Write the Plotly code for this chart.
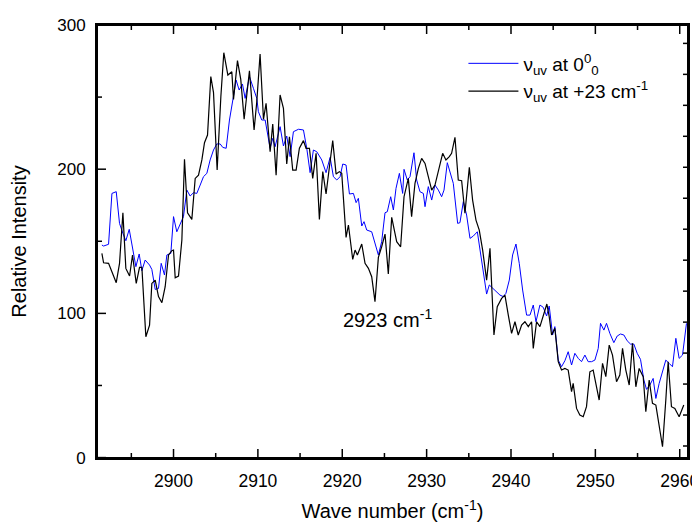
import plotly.graph_objects as go

# ---- data ----
black_x = [2891.51, 2891.71, 2892.30, 2893.21, 2893.60, 2894.00, 2894.35, 2894.79, 2895.14, 2895.58,
           2895.97, 2896.25, 2896.72, 2897.16, 2897.43, 2897.83, 2898.22, 2898.62, 2899.01, 2899.41,
           2899.80, 2900.00, 2900.20, 2900.59, 2900.99, 2901.30, 2901.66, 2902.17, 2902.57, 2902.96,
           2903.36, 2903.67, 2904.03, 2904.42, 2904.74, 2905.17, 2905.61, 2905.96, 2906.44, 2906.91,
           2907.11, 2907.58, 2907.97, 2908.37, 2909.00, 2909.55, 2909.87, 2910.26, 2910.66, 2910.97,
           2911.45, 2911.76, 2912.16, 2912.63, 2913.03, 2913.42, 2913.74, 2914.13, 2914.53, 2914.92,
           2915.40, 2915.71, 2916.11, 2916.50, 2916.90, 2917.29, 2917.69, 2918.08, 2918.48, 2918.87,
           2919.27, 2919.66, 2919.94, 2920.45, 2920.73, 2921.24, 2921.52, 2921.79, 2922.31, 2922.70,
           2923.10, 2923.49, 2923.88, 2924.28, 2924.67, 2925.07, 2925.46, 2925.86, 2926.25, 2926.45,
           2926.92, 2927.32, 2927.83, 2928.22, 2928.62, 2929.02, 2929.41, 2929.81, 2930.20, 2930.60,
           2930.99, 2931.50, 2931.90, 2932.29, 2932.69, 2932.96, 2933.36, 2933.75, 2934.15, 2934.54,
           2935.06, 2935.45, 2935.85, 2936.24, 2936.64, 2937.11, 2937.51, 2937.98, 2938.37, 2938.89,
           2939.28, 2939.68, 2940.07, 2940.47, 2940.86, 2941.26, 2941.65, 2942.05, 2942.44, 2942.64,
           2943.03, 2943.43, 2944.02, 2944.25, 2944.53, 2944.81, 2945.20, 2945.60, 2945.99, 2946.39,
           2946.78, 2947.18, 2947.37, 2947.77, 2948.16, 2948.56, 2948.95, 2949.35, 2949.74, 2950.14,
           2950.45, 2950.85, 2951.24, 2951.64, 2952.03, 2952.51, 2952.90, 2953.22, 2953.61, 2954.01,
           2954.40, 2954.80, 2955.19, 2955.67, 2955.98, 2956.38, 2956.77, 2957.17, 2957.56, 2957.96,
           2958.35, 2958.63, 2959.02, 2959.42, 2959.93, 2960.48]
black_y = [141.6, 135.1, 134.7, 121.3, 134.7, 169.8, 131.2, 125.9, 140.5, 120.8,
           131.9, 131.9, 83.8, 91.9, 120.8, 123.1, 111.6, 107.4, 118.5, 140.5,
           143.5, 143.9, 124.7, 125.9, 150.9, 206.8, 169.8, 165.2, 193.6, 195.9,
           206.4, 218.4, 223.7, 264.2, 253.1, 199.4, 250.3, 280.8, 265.3, 267.6,
           248.4, 275.3, 262.3, 234.6, 268.3, 227.2, 246.8, 279.9, 234.6, 245.7,
           212.1, 231.3, 195.9, 251.5, 242.2, 203.6, 222.5, 199.4, 199.4, 214.5,
           219.8, 214.5, 214.5, 193.6, 211.0, 165.2, 198.3, 182.8, 201.7, 219.8,
           196.6, 198.3, 197.1, 152.7, 161.3, 137.4, 143.9, 140.5, 148.1, 134.7,
           131.2, 125.4, 108.1, 138.8, 146.2, 155.0, 127.3, 166.6, 155.5, 149.7,
           146.2, 180.9, 193.6, 167.1, 190.2, 200.6, 207.5, 204.0, 194.8, 185.5,
           189.0, 200.6, 211.0, 206.4, 208.7, 211.0, 222.1, 192.5, 192.0, 169.4,
           201.3, 178.6, 164.7, 157.8, 143.9, 123.1, 145.1, 85.0, 104.6, 110.4,
           112.7, 98.8, 86.1, 94.2, 85.0, 91.9, 94.2, 90.8, 94.2, 75.7,
           94.2, 90.8, 101.2, 106.5, 97.7, 85.0, 89.6, 66.5, 60.7, 61.8,
           60.7, 45.7, 51.4, 34.1, 29.5, 28.3, 35.3, 59.5, 60.7, 49.1,
           39.9, 65.3, 56.1, 78.0, 71.1, 52.6, 57.2, 75.7, 60.7, 50.3,
           79.2, 49.1, 61.8, 56.1, 31.8, 53.8, 37.6, 36.4, 22.5, 7.5,
           39.9, 66.5, 35.3, 34.1, 28.3, 36.4]

blue_x = [2891.51, 2891.71, 2892.30, 2892.70, 2893.21, 2893.60, 2894.00, 2894.35, 2894.75, 2895.14,
          2895.54, 2895.93, 2896.25, 2896.64, 2897.16, 2897.43, 2897.83, 2898.22, 2898.54, 2898.93,
          2899.21, 2899.68, 2900.00, 2900.39, 2900.87, 2901.18, 2901.58, 2901.97, 2902.37, 2902.76,
          2903.16, 2903.55, 2903.95, 2904.34, 2904.74, 2905.13, 2905.53, 2905.84, 2906.24, 2906.63,
          2907.03, 2907.42, 2907.78, 2908.17, 2908.49, 2909.00, 2909.47, 2909.87, 2910.06, 2910.46,
          2910.86, 2911.45, 2911.76, 2912.04, 2912.63, 2913.03, 2913.42, 2913.82, 2914.21, 2914.81,
          2915.40, 2915.79, 2916.19, 2916.58, 2916.98, 2917.57, 2918.08, 2918.56, 2918.95, 2919.35,
          2919.74, 2920.06, 2920.45, 2920.85, 2921.32, 2921.64, 2921.91, 2922.31, 2922.58, 2922.90,
          2923.49, 2923.88, 2924.28, 2924.67, 2925.07, 2925.34, 2925.74, 2926.06, 2926.37, 2926.77,
          2927.16, 2927.32, 2927.71, 2928.03, 2928.50, 2928.82, 2929.21, 2929.61, 2929.81, 2930.20,
          2930.60, 2930.99, 2931.39, 2931.78, 2932.06, 2932.45, 2932.77, 2933.16, 2933.68, 2933.95,
          2934.35, 2934.74, 2935.14, 2935.53, 2936.01, 2936.40, 2936.72, 2937.11, 2937.43, 2937.90,
          2938.30, 2938.69, 2939.09, 2939.40, 2939.80, 2940.19, 2940.59, 2940.98, 2941.38, 2941.85,
          2942.25, 2942.64, 2942.96, 2943.43, 2943.82, 2944.22, 2944.53, 2944.93, 2945.20, 2945.60,
          2945.99, 2946.39, 2946.78, 2947.18, 2947.57, 2947.97, 2948.36, 2948.76, 2949.15, 2949.55,
          2949.94, 2950.34, 2950.61, 2951.01, 2951.32, 2951.72, 2952.19, 2952.59, 2952.98, 2953.38,
          2953.77, 2954.17, 2954.56, 2954.96, 2955.35, 2955.75, 2956.06, 2956.46, 2956.85, 2957.17,
          2957.56, 2957.96, 2958.35, 2958.75, 2959.14, 2959.54, 2959.93, 2960.33, 2960.80]
blue_y = [147.4, 146.7, 147.9, 183.2, 184.4, 162.4, 155.5, 150.4, 158.3, 143.9,
          132.4, 141.2, 129.6, 137.0, 133.5, 130.5, 116.6, 117.3, 134.7, 126.6,
          140.5, 141.6, 167.1, 156.6, 163.6, 167.1, 185.5, 181.4, 183.7, 183.2,
          189.0, 194.8, 197.1, 206.4, 213.3, 217.5, 217.5, 215.1, 214.5, 234.1,
          248.0, 261.8, 254.9, 259.1, 249.1, 264.2, 256.1, 249.1, 239.9, 234.1,
          234.1, 214.5, 221.4, 215.6, 229.5, 216.1, 223.0, 208.7, 226.0, 227.7,
          227.2, 214.5, 197.6, 213.3, 212.1, 206.4, 197.6, 208.2, 194.8, 192.5,
          194.8, 203.6, 202.9, 182.8, 183.2, 176.8, 179.8, 160.6, 163.6, 157.8,
          156.6, 148.1, 140.5, 149.7, 169.8, 170.5, 180.9, 171.7, 186.7, 197.1,
          183.2, 199.9, 192.5, 194.8, 211.4, 192.5, 184.4, 183.2, 174.0, 187.9,
          178.6, 189.0, 185.5, 180.9, 185.5, 204.5, 197.1, 190.2, 162.4, 162.9,
          177.5, 168.2, 152.0, 153.6, 156.6, 141.6, 130.1, 113.4, 119.7, 117.3,
          115.0, 112.7, 111.6, 113.9, 123.1, 140.5, 148.1, 134.7, 116.2, 98.8,
          98.8, 105.8, 94.2, 105.8, 104.2, 98.2, 105.1, 85.0, 90.8, 67.6,
          63.0, 67.2, 73.4, 64.2, 72.3, 68.8, 66.5, 71.1, 66.5, 66.5,
          67.6, 75.7, 93.1, 88.4, 93.1, 86.1, 79.7, 84.3, 85.7, 85.0,
          81.0, 78.7, 78.7, 72.3, 68.1, 53.8, 47.3, 50.3, 54.9, 41.0,
          51.4, 59.5, 67.6, 65.3, 63.0, 82.7, 68.8, 71.1, 93.1]

x_major_ticks = [2900, 2910, 2920, 2930, 2940, 2950, 2960]
x_minor_ticks = [2895, 2905, 2915, 2925, 2935, 2945, 2955]
y_major_ticks = [0, 100, 200, 300]
y_minor_ticks = [50, 150, 250]

blue_name = "ν<sub>uv</sub> at 0<sup>0</sup><sub>0</sub>"
black_name = "ν<sub>uv</sub> at +23 cm<sup>-1</sup>"
x_title = "Wave number (cm<sup>-1</sup>)"
y_title = "Relative Intensity"
peak_label = "2923 cm<sup>-1</sup>"

FONT = "Liberation Sans, Arial, sans-serif"
INK = "#000000"

# figure geometry (page body adds an 8px offset, so the figure fits the window)
FIG_W, FIG_H = 692, 514
M_L, M_R, M_T, M_B = 89, 12, 17, 64
X_RANGE = [2890.93, 2960.98]
Y_RANGE = [-0.3, 300]
plot_w = FIG_W - M_L - M_R
plot_h = FIG_H - M_T - M_B
ux = (X_RANGE[1] - X_RANGE[0]) / plot_w   # data units per pixel
uy = (Y_RANGE[1] - Y_RANGE[0]) / plot_h
MAJOR_LEN, MINOR_LEN, RIGHT_LEN = 9, 5, 5

fig = go.Figure()
fig.add_trace(go.Scatter(x=blue_x, y=blue_y, mode="lines", name=blue_name,
                         line=dict(color="#0000ff", width=1)))
fig.add_trace(go.Scatter(x=black_x, y=black_y, mode="lines", name=black_name,
                         line=dict(color=INK, width=1.2)))

# frame of the plotting area and inward tick marks (drawn as plain line paths)
x0, x1 = X_RANGE
y0, y1 = Y_RANGE
frame_x = [x0, x1, x1, x0, x0]
frame_y = [y0, y0, y1, y1, y0]
fig.add_trace(go.Scatter(x=frame_x, y=frame_y, mode="lines", showlegend=False,
                         hoverinfo="skip", cliponaxis=False,
                         line=dict(color=INK, width=2)))

tx, ty = [], []
for ticks, length in ((x_major_ticks, MAJOR_LEN), (x_minor_ticks, MINOR_LEN)):
    for t in ticks:
        tx += [t, t, None, t, t, None]
        ty += [y0, y0 + length * uy, None, y1, y1 - length * uy, None]
for ticks, length in ((y_major_ticks, MAJOR_LEN), (y_minor_ticks, MINOR_LEN)):
    for v in ticks:
        tx += [x0, x0 + length * ux, None]
        ty += [v, v, None]
# right-hand axis of the original carries its own evenly spaced tick marks
for k in range(14):
    v = y0 + (12 + 30.97 * k) * uy
    tx += [x1, x1 - RIGHT_LEN * ux, None]
    ty += [v, v, None]
fig.add_trace(go.Scatter(x=tx, y=ty, mode="lines", showlegend=False,
                         hoverinfo="skip", cliponaxis=False,
                         line=dict(color=INK, width=1.5)))

fig.update_layout(
    width=FIG_W, height=FIG_H,
    margin=dict(l=M_L, r=M_R, t=M_T, b=M_B, autoexpand=False),
    paper_bgcolor="#ffffff", plot_bgcolor="#ffffff",
    font=dict(family=FONT, color=INK, size=17),
    showlegend=True,
    legend=dict(x=0.62, y=0.955, xanchor="left", yanchor="top",
                bgcolor="rgba(0,0,0,0)", font=dict(size=19, family=FONT),
                itemwidth=50, tracegroupgap=0),
    xaxis=dict(range=X_RANGE, tickvals=x_major_ticks, ticks="",
               showline=True, linecolor=INK, linewidth=2, mirror=True,
               showgrid=False, zeroline=False, automargin=False,
               tickfont=dict(size=17.5, family=FONT), ticklabelstandoff=6,
               title=dict(text=x_title, font=dict(size=20, family=FONT), standoff=20)),
    yaxis=dict(range=Y_RANGE, tickvals=y_major_ticks, ticks="",
               showline=True, linecolor=INK, linewidth=2, mirror=True,
               showgrid=False, zeroline=False, automargin=False,
               tickfont=dict(size=17, family=FONT), ticklabelstandoff=6,
               title=dict(text=y_title, font=dict(size=20, family=FONT), standoff=31)),
)

fig.add_annotation(x=2919.9, y=96.5, xref="x", yref="y", text=peak_label,
                   showarrow=False, xanchor="left", yanchor="middle",
                   font=dict(size=20, family=FONT, color=INK))

fig.write_html("out.html")
